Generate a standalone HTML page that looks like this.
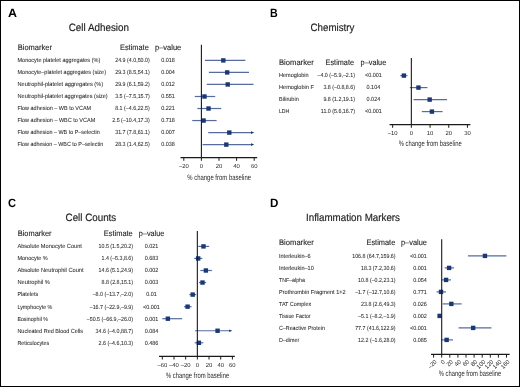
<!DOCTYPE html>
<html><head><meta charset="utf-8"><style>
html,body{margin:0;padding:0;background:#fff;}
body{width:520px;height:387px;overflow:hidden;}
svg{display:block;will-change:transform;font-family:"Liberation Sans", sans-serif;text-rendering:geometricPrecision;}
</style></head><body>
<svg width="520" height="387" viewBox="0 0 520 387" fill="#231f20">
<rect x="0" y="0" width="520" height="387" fill="#fff"/>
<rect x="0.5" y="0.5" width="519" height="386" fill="none" stroke="#000" stroke-width="1"/>
<text x="8.10" y="16.90" font-size="12.0" textLength="9.00" lengthAdjust="spacingAndGlyphs" font-weight="bold" fill="#000">A</text>
<text x="68.75" y="31.25" font-size="10.6" textLength="60.25" lengthAdjust="spacingAndGlyphs" stroke="#231f20" stroke-width="0.18">Cell Adhesion</text>
<text x="17.75" y="49.90" font-size="8.0" textLength="34.15" lengthAdjust="spacingAndGlyphs" stroke="#231f20" stroke-width="0.12">Biomarker</text>
<text x="120.00" y="49.90" font-size="8.0" textLength="28.75" lengthAdjust="spacingAndGlyphs" stroke="#231f20" stroke-width="0.12">Estimate</text>
<text x="155.00" y="49.90" font-size="8.0" textLength="26.25" lengthAdjust="spacingAndGlyphs" stroke="#231f20" stroke-width="0.12">p–value</text>
<text x="17.50" y="62.25" font-size="5.9" textLength="82.75" lengthAdjust="spacingAndGlyphs" stroke="#231f20" stroke-width="0.05">Monocyte platelet aggregates (%)</text>
<text x="149.75" y="62.25" font-size="5.9" text-anchor="end" textLength="34.56" lengthAdjust="spacingAndGlyphs" stroke="#231f20" stroke-width="0.05">24.9 (4.0,50.0)</text>
<text x="168.10" y="62.25" font-size="5.9" text-anchor="middle" textLength="13.64" lengthAdjust="spacingAndGlyphs" stroke="#231f20" stroke-width="0.05">0.018</text>
<line x1="204.92" y1="60.40" x2="245.40" y2="60.40" stroke="#556c9c" stroke-width="1.2"/>
<rect x="221.11" y="58.20" width="4.40" height="4.40" fill="#1c3874"/>
<text x="17.50" y="74.28" font-size="5.9" textLength="88.50" lengthAdjust="spacingAndGlyphs" stroke="#231f20" stroke-width="0.05">Monocyte–platelet aggregates (size)</text>
<text x="149.75" y="74.28" font-size="5.9" text-anchor="end" textLength="34.56" lengthAdjust="spacingAndGlyphs" stroke="#231f20" stroke-width="0.05">29.3 (8.5,54.1)</text>
<text x="168.10" y="74.28" font-size="5.9" text-anchor="middle" textLength="13.64" lengthAdjust="spacingAndGlyphs" stroke="#231f20" stroke-width="0.05">0.004</text>
<line x1="208.88" y1="72.43" x2="249.01" y2="72.43" stroke="#556c9c" stroke-width="1.2"/>
<rect x="224.98" y="70.23" width="4.40" height="4.40" fill="#1c3874"/>
<text x="17.50" y="86.31" font-size="5.9" textLength="85.60" lengthAdjust="spacingAndGlyphs" stroke="#231f20" stroke-width="0.05">Neutrophil-platelet aggregates (%)</text>
<text x="149.75" y="86.31" font-size="5.9" text-anchor="end" textLength="34.56" lengthAdjust="spacingAndGlyphs" stroke="#231f20" stroke-width="0.05">29.9 (6.1,59.2)</text>
<text x="168.10" y="86.31" font-size="5.9" text-anchor="middle" textLength="13.64" lengthAdjust="spacingAndGlyphs" stroke="#231f20" stroke-width="0.05">0.012</text>
<line x1="206.77" y1="84.46" x2="253.50" y2="84.46" stroke="#556c9c" stroke-width="1.2"/>
<rect x="225.51" y="82.26" width="4.40" height="4.40" fill="#1c3874"/>
<text x="17.50" y="98.34" font-size="5.9" textLength="90.25" lengthAdjust="spacingAndGlyphs" stroke="#231f20" stroke-width="0.05">Neutrophil-platelet aggregates (size)</text>
<text x="149.75" y="98.34" font-size="5.9" text-anchor="end" textLength="34.56" lengthAdjust="spacingAndGlyphs" stroke="#231f20" stroke-width="0.05">3.5 (–7.5,15.7)</text>
<text x="168.10" y="98.34" font-size="5.9" text-anchor="middle" textLength="13.64" lengthAdjust="spacingAndGlyphs" stroke="#231f20" stroke-width="0.05">0.551</text>
<line x1="194.80" y1="96.49" x2="215.22" y2="96.49" stroke="#556c9c" stroke-width="1.2"/>
<rect x="202.28" y="94.29" width="4.40" height="4.40" fill="#1c3874"/>
<text x="17.50" y="110.37" font-size="5.9" textLength="73.60" lengthAdjust="spacingAndGlyphs" stroke="#231f20" stroke-width="0.05">Flow adhesion – WB to VCAM</text>
<text x="149.75" y="110.37" font-size="5.9" text-anchor="end" textLength="34.56" lengthAdjust="spacingAndGlyphs" stroke="#231f20" stroke-width="0.05">8.1 (–4.6,22.5)</text>
<text x="168.10" y="110.37" font-size="5.9" text-anchor="middle" textLength="13.64" lengthAdjust="spacingAndGlyphs" stroke="#231f20" stroke-width="0.05">0.221</text>
<line x1="197.35" y1="108.52" x2="221.20" y2="108.52" stroke="#556c9c" stroke-width="1.2"/>
<rect x="206.33" y="106.32" width="4.40" height="4.40" fill="#1c3874"/>
<text x="17.50" y="122.40" font-size="5.9" textLength="77.70" lengthAdjust="spacingAndGlyphs" stroke="#231f20" stroke-width="0.05">Flow adhesion – WBC to VCAM</text>
<text x="149.75" y="122.40" font-size="5.9" text-anchor="end" textLength="37.51" lengthAdjust="spacingAndGlyphs" stroke="#231f20" stroke-width="0.05">2.5 (–10.4,17.3)</text>
<text x="168.10" y="122.40" font-size="5.9" text-anchor="middle" textLength="13.64" lengthAdjust="spacingAndGlyphs" stroke="#231f20" stroke-width="0.05">0.718</text>
<line x1="192.25" y1="120.55" x2="216.62" y2="120.55" stroke="#556c9c" stroke-width="1.2"/>
<rect x="201.40" y="118.35" width="4.40" height="4.40" fill="#1c3874"/>
<text x="17.50" y="134.43" font-size="5.9" textLength="82.20" lengthAdjust="spacingAndGlyphs" stroke="#231f20" stroke-width="0.05">Flow adhesion – WB to P–selectin</text>
<text x="149.75" y="134.43" font-size="5.9" text-anchor="end" textLength="34.56" lengthAdjust="spacingAndGlyphs" stroke="#231f20" stroke-width="0.05">31.7 (7.8,61.1)</text>
<text x="168.10" y="134.43" font-size="5.9" text-anchor="middle" textLength="13.64" lengthAdjust="spacingAndGlyphs" stroke="#231f20" stroke-width="0.05">0.007</text>
<line x1="208.26" y1="132.58" x2="252.00" y2="132.58" stroke="#556c9c" stroke-width="1.2"/>
<polygon points="251.00,131.28 254.20,132.58 251.00,133.88" fill="#1c3874"/>
<rect x="227.10" y="130.38" width="4.40" height="4.40" fill="#1c3874"/>
<text x="17.50" y="146.46" font-size="5.9" textLength="85.70" lengthAdjust="spacingAndGlyphs" stroke="#231f20" stroke-width="0.05">Flow adhesion – WBC to P–selectin</text>
<text x="149.75" y="146.46" font-size="5.9" text-anchor="end" textLength="34.56" lengthAdjust="spacingAndGlyphs" stroke="#231f20" stroke-width="0.05">28.3 (1.4,62.5)</text>
<text x="168.10" y="146.46" font-size="5.9" text-anchor="middle" textLength="13.64" lengthAdjust="spacingAndGlyphs" stroke="#231f20" stroke-width="0.05">0.038</text>
<line x1="202.63" y1="144.61" x2="252.00" y2="144.61" stroke="#556c9c" stroke-width="1.2"/>
<polygon points="251.00,143.31 254.20,144.61 251.00,145.91" fill="#1c3874"/>
<rect x="224.10" y="142.41" width="4.40" height="4.40" fill="#1c3874"/>
<line x1="201.40" y1="44.80" x2="201.40" y2="157.60" stroke="#1a1a1a" stroke-width="1.1"/>
<line x1="180.50" y1="157.60" x2="257.20" y2="157.60" stroke="#1a1a1a" stroke-width="1.15"/>
<line x1="183.80" y1="157.60" x2="183.80" y2="160.80" stroke="#1a1a1a" stroke-width="1.0"/>
<text x="183.80" y="168.10" font-size="5.9" text-anchor="middle">–20</text>
<line x1="201.40" y1="157.60" x2="201.40" y2="160.80" stroke="#1a1a1a" stroke-width="1.0"/>
<text x="201.40" y="168.10" font-size="5.9" text-anchor="middle">0</text>
<line x1="219.00" y1="157.60" x2="219.00" y2="160.80" stroke="#1a1a1a" stroke-width="1.0"/>
<text x="219.00" y="168.10" font-size="5.9" text-anchor="middle">20</text>
<line x1="236.60" y1="157.60" x2="236.60" y2="160.80" stroke="#1a1a1a" stroke-width="1.0"/>
<text x="236.60" y="168.10" font-size="5.9" text-anchor="middle">40</text>
<line x1="254.20" y1="157.60" x2="254.20" y2="160.80" stroke="#1a1a1a" stroke-width="1.0"/>
<text x="254.20" y="168.10" font-size="5.9" text-anchor="middle">60</text>
<text x="187.30" y="179.50" font-size="7.8" textLength="63.70" lengthAdjust="spacingAndGlyphs">% change from baseline</text>
<text x="269.90" y="16.90" font-size="12.0" textLength="7.70" lengthAdjust="spacingAndGlyphs" font-weight="bold" fill="#000">B</text>
<text x="310.60" y="31.25" font-size="10.6" textLength="43.80" lengthAdjust="spacingAndGlyphs" stroke="#231f20" stroke-width="0.18">Chemistry</text>
<text x="279.00" y="64.75" font-size="8.0" textLength="34.75" lengthAdjust="spacingAndGlyphs" stroke="#231f20" stroke-width="0.12">Biomarker</text>
<text x="325.60" y="64.75" font-size="8.0" textLength="28.40" lengthAdjust="spacingAndGlyphs" stroke="#231f20" stroke-width="0.12">Estimate</text>
<text x="360.60" y="64.75" font-size="8.0" textLength="25.65" lengthAdjust="spacingAndGlyphs" stroke="#231f20" stroke-width="0.12">p–value</text>
<text x="279.00" y="77.45" font-size="5.9" textLength="29.70" lengthAdjust="spacingAndGlyphs" stroke="#231f20" stroke-width="0.05">Hemoglobin</text>
<text x="355.00" y="77.45" font-size="5.9" text-anchor="end" textLength="37.51" lengthAdjust="spacingAndGlyphs" stroke="#231f20" stroke-width="0.05">–4.0 (–5.9,–2.1)</text>
<text x="373.40" y="77.45" font-size="5.9" text-anchor="middle" textLength="16.82" lengthAdjust="spacingAndGlyphs" stroke="#231f20" stroke-width="0.05">&lt;0.001</text>
<line x1="400.32" y1="75.60" x2="407.42" y2="75.60" stroke="#556c9c" stroke-width="1.2"/>
<rect x="401.67" y="73.40" width="4.40" height="4.40" fill="#1c3874"/>
<text x="279.00" y="89.45" font-size="5.9" textLength="34.90" lengthAdjust="spacingAndGlyphs" stroke="#231f20" stroke-width="0.05">Hemoglobin F</text>
<text x="355.00" y="89.45" font-size="5.9" text-anchor="end" textLength="31.60" lengthAdjust="spacingAndGlyphs" stroke="#231f20" stroke-width="0.05">3.8 (–0.8,8.6)</text>
<text x="373.40" y="89.45" font-size="5.9" text-anchor="middle" textLength="13.64" lengthAdjust="spacingAndGlyphs" stroke="#231f20" stroke-width="0.05">0.104</text>
<line x1="409.85" y1="87.60" x2="427.43" y2="87.60" stroke="#556c9c" stroke-width="1.2"/>
<rect x="416.26" y="85.40" width="4.40" height="4.40" fill="#1c3874"/>
<text x="279.00" y="101.45" font-size="5.9" textLength="19.80" lengthAdjust="spacingAndGlyphs" stroke="#231f20" stroke-width="0.05">Bilirubin</text>
<text x="355.00" y="101.45" font-size="5.9" text-anchor="end" textLength="31.60" lengthAdjust="spacingAndGlyphs" stroke="#231f20" stroke-width="0.05">9.8 (1.2,19.1)</text>
<text x="373.40" y="101.45" font-size="5.9" text-anchor="middle" textLength="13.64" lengthAdjust="spacingAndGlyphs" stroke="#231f20" stroke-width="0.05">0.024</text>
<line x1="413.59" y1="99.60" x2="447.07" y2="99.60" stroke="#556c9c" stroke-width="1.2"/>
<rect x="427.48" y="97.40" width="4.40" height="4.40" fill="#1c3874"/>
<text x="279.00" y="113.45" font-size="5.9" textLength="10.30" lengthAdjust="spacingAndGlyphs" stroke="#231f20" stroke-width="0.05">LDH</text>
<text x="355.00" y="113.45" font-size="5.9" text-anchor="end" textLength="34.16" lengthAdjust="spacingAndGlyphs" stroke="#231f20" stroke-width="0.05">11.0 (5.6,16.7)</text>
<text x="373.40" y="113.45" font-size="5.9" text-anchor="middle" textLength="16.82" lengthAdjust="spacingAndGlyphs" stroke="#231f20" stroke-width="0.05">&lt;0.001</text>
<line x1="421.82" y1="111.60" x2="442.58" y2="111.60" stroke="#556c9c" stroke-width="1.2"/>
<rect x="429.72" y="109.40" width="4.40" height="4.40" fill="#1c3874"/>
<line x1="411.35" y1="58.10" x2="411.35" y2="124.60" stroke="#1a1a1a" stroke-width="1.1"/>
<line x1="389.60" y1="124.60" x2="470.40" y2="124.60" stroke="#1a1a1a" stroke-width="1.15"/>
<line x1="392.65" y1="124.60" x2="392.65" y2="127.80" stroke="#1a1a1a" stroke-width="1.0"/>
<text x="392.65" y="135.20" font-size="5.9" text-anchor="middle">–10</text>
<line x1="411.35" y1="124.60" x2="411.35" y2="127.80" stroke="#1a1a1a" stroke-width="1.0"/>
<text x="411.35" y="135.20" font-size="5.9" text-anchor="middle">0</text>
<line x1="430.05" y1="124.60" x2="430.05" y2="127.80" stroke="#1a1a1a" stroke-width="1.0"/>
<text x="430.05" y="135.20" font-size="5.9" text-anchor="middle">10</text>
<line x1="448.75" y1="124.60" x2="448.75" y2="127.80" stroke="#1a1a1a" stroke-width="1.0"/>
<text x="448.75" y="135.20" font-size="5.9" text-anchor="middle">20</text>
<line x1="467.45" y1="124.60" x2="467.45" y2="127.80" stroke="#1a1a1a" stroke-width="1.0"/>
<text x="467.45" y="135.20" font-size="5.9" text-anchor="middle">30</text>
<text x="398.70" y="146.40" font-size="7.8" textLength="63.00" lengthAdjust="spacingAndGlyphs">% change from baseline</text>
<text x="8.10" y="206.60" font-size="12.0" textLength="8.00" lengthAdjust="spacingAndGlyphs" font-weight="bold" fill="#000">C</text>
<text x="65.60" y="220.90" font-size="10.6" textLength="50.65" lengthAdjust="spacingAndGlyphs" stroke="#231f20" stroke-width="0.18">Cell Counts</text>
<text x="17.75" y="235.60" font-size="8.0" textLength="33.75" lengthAdjust="spacingAndGlyphs" stroke="#231f20" stroke-width="0.12">Biomarker</text>
<text x="103.75" y="235.60" font-size="8.0" textLength="29.00" lengthAdjust="spacingAndGlyphs" stroke="#231f20" stroke-width="0.12">Estimate</text>
<text x="138.75" y="235.60" font-size="8.0" textLength="25.65" lengthAdjust="spacingAndGlyphs" stroke="#231f20" stroke-width="0.12">p–value</text>
<text x="17.40" y="248.25" font-size="5.9" textLength="64.50" lengthAdjust="spacingAndGlyphs" stroke="#231f20" stroke-width="0.05">Absolute Monocyte Count</text>
<text x="133.10" y="248.25" font-size="5.9" text-anchor="end" textLength="34.56" lengthAdjust="spacingAndGlyphs" stroke="#231f20" stroke-width="0.05">10.5 (1.5,20.2)</text>
<text x="151.50" y="248.25" font-size="5.9" text-anchor="middle" textLength="13.64" lengthAdjust="spacingAndGlyphs" stroke="#231f20" stroke-width="0.05">0.021</text>
<line x1="198.23" y1="246.40" x2="209.15" y2="246.40" stroke="#556c9c" stroke-width="1.2"/>
<rect x="201.28" y="244.20" width="4.40" height="4.40" fill="#1c3874"/>
<text x="17.40" y="260.30" font-size="5.9" textLength="30.40" lengthAdjust="spacingAndGlyphs" stroke="#231f20" stroke-width="0.05">Monocyte %</text>
<text x="133.10" y="260.30" font-size="5.9" text-anchor="end" textLength="31.60" lengthAdjust="spacingAndGlyphs" stroke="#231f20" stroke-width="0.05">1.4 (–5.3,8.6)</text>
<text x="151.50" y="260.30" font-size="5.9" text-anchor="middle" textLength="13.64" lengthAdjust="spacingAndGlyphs" stroke="#231f20" stroke-width="0.05">0.683</text>
<line x1="194.25" y1="258.45" x2="202.37" y2="258.45" stroke="#556c9c" stroke-width="1.2"/>
<rect x="195.97" y="256.25" width="4.40" height="4.40" fill="#1c3874"/>
<text x="17.40" y="272.35" font-size="5.9" textLength="66.20" lengthAdjust="spacingAndGlyphs" stroke="#231f20" stroke-width="0.05">Absolute Neutrophil Count</text>
<text x="133.10" y="272.35" font-size="5.9" text-anchor="end" textLength="34.56" lengthAdjust="spacingAndGlyphs" stroke="#231f20" stroke-width="0.05">14.6 (5.1,24.9)</text>
<text x="151.50" y="272.35" font-size="5.9" text-anchor="middle" textLength="13.64" lengthAdjust="spacingAndGlyphs" stroke="#231f20" stroke-width="0.05">0.002</text>
<line x1="200.33" y1="270.50" x2="211.89" y2="270.50" stroke="#556c9c" stroke-width="1.2"/>
<rect x="203.68" y="268.30" width="4.40" height="4.40" fill="#1c3874"/>
<text x="17.40" y="284.40" font-size="5.9" textLength="32.50" lengthAdjust="spacingAndGlyphs" stroke="#231f20" stroke-width="0.05">Neutrophil %</text>
<text x="133.10" y="284.40" font-size="5.9" text-anchor="end" textLength="31.60" lengthAdjust="spacingAndGlyphs" stroke="#231f20" stroke-width="0.05">8.8 (2.8,15.1)</text>
<text x="151.50" y="284.40" font-size="5.9" text-anchor="middle" textLength="13.64" lengthAdjust="spacingAndGlyphs" stroke="#231f20" stroke-width="0.05">0.003</text>
<line x1="198.99" y1="282.55" x2="206.17" y2="282.55" stroke="#556c9c" stroke-width="1.2"/>
<rect x="200.29" y="280.35" width="4.40" height="4.40" fill="#1c3874"/>
<text x="17.40" y="296.45" font-size="5.9" textLength="20.70" lengthAdjust="spacingAndGlyphs" stroke="#231f20" stroke-width="0.05">Platelets</text>
<text x="133.10" y="296.45" font-size="5.9" text-anchor="end" textLength="40.47" lengthAdjust="spacingAndGlyphs" stroke="#231f20" stroke-width="0.05">–8.0 (–13.7,–2.0)</text>
<text x="151.50" y="296.45" font-size="5.9" text-anchor="middle" textLength="10.61" lengthAdjust="spacingAndGlyphs" stroke="#231f20" stroke-width="0.05">0.01</text>
<line x1="189.35" y1="294.60" x2="196.18" y2="294.60" stroke="#556c9c" stroke-width="1.2"/>
<rect x="190.48" y="292.40" width="4.40" height="4.40" fill="#1c3874"/>
<text x="17.40" y="308.50" font-size="5.9" textLength="35.00" lengthAdjust="spacingAndGlyphs" stroke="#231f20" stroke-width="0.05">Lymphocyte %</text>
<text x="133.10" y="308.50" font-size="5.9" text-anchor="end" textLength="43.42" lengthAdjust="spacingAndGlyphs" stroke="#231f20" stroke-width="0.05">–16.7 (–22.9,–9.9)</text>
<text x="151.50" y="308.50" font-size="5.9" text-anchor="middle" textLength="16.82" lengthAdjust="spacingAndGlyphs" stroke="#231f20" stroke-width="0.05">&lt;0.001</text>
<line x1="183.98" y1="306.65" x2="191.57" y2="306.65" stroke="#556c9c" stroke-width="1.2"/>
<rect x="185.40" y="304.45" width="4.40" height="4.40" fill="#1c3874"/>
<text x="17.40" y="320.55" font-size="5.9" textLength="30.60" lengthAdjust="spacingAndGlyphs" stroke="#231f20" stroke-width="0.05">Eosinophil %</text>
<text x="133.10" y="320.55" font-size="5.9" text-anchor="end" textLength="46.38" lengthAdjust="spacingAndGlyphs" stroke="#231f20" stroke-width="0.05">–50.5 (–66.9,–26.0)</text>
<text x="151.50" y="320.55" font-size="5.9" text-anchor="middle" textLength="13.64" lengthAdjust="spacingAndGlyphs" stroke="#231f20" stroke-width="0.05">0.001</text>
<line x1="162.31" y1="318.70" x2="182.17" y2="318.70" stroke="#556c9c" stroke-width="1.2"/>
<rect x="165.66" y="316.50" width="4.40" height="4.40" fill="#1c3874"/>
<text x="17.40" y="332.60" font-size="5.9" textLength="65.70" lengthAdjust="spacingAndGlyphs" stroke="#231f20" stroke-width="0.05">Nucleated Red Blood Cells</text>
<text x="133.10" y="332.60" font-size="5.9" text-anchor="end" textLength="37.51" lengthAdjust="spacingAndGlyphs" stroke="#231f20" stroke-width="0.05">34.6 (–4.0,88.7)</text>
<text x="151.50" y="332.60" font-size="5.9" text-anchor="middle" textLength="13.64" lengthAdjust="spacingAndGlyphs" stroke="#231f20" stroke-width="0.05">0.084</text>
<line x1="195.01" y1="330.75" x2="230.19" y2="330.75" stroke="#556c9c" stroke-width="1.2"/>
<polygon points="229.19,329.45 232.39,330.75 229.19,332.05" fill="#1c3874"/>
<rect x="215.36" y="328.55" width="4.40" height="4.40" fill="#1c3874"/>
<text x="17.40" y="344.65" font-size="5.9" textLength="31.80" lengthAdjust="spacingAndGlyphs" stroke="#231f20" stroke-width="0.05">Reticulocytes</text>
<text x="133.10" y="344.65" font-size="5.9" text-anchor="end" textLength="34.56" lengthAdjust="spacingAndGlyphs" stroke="#231f20" stroke-width="0.05">2.6 (–4.6,10.3)</text>
<text x="151.50" y="344.65" font-size="5.9" text-anchor="middle" textLength="13.64" lengthAdjust="spacingAndGlyphs" stroke="#231f20" stroke-width="0.05">0.486</text>
<line x1="194.66" y1="342.80" x2="203.37" y2="342.80" stroke="#556c9c" stroke-width="1.2"/>
<rect x="196.67" y="340.60" width="4.40" height="4.40" fill="#1c3874"/>
<line x1="197.35" y1="230.90" x2="197.35" y2="356.30" stroke="#1a1a1a" stroke-width="1.1"/>
<line x1="159.00" y1="356.30" x2="234.80" y2="356.30" stroke="#1a1a1a" stroke-width="1.15"/>
<line x1="162.31" y1="356.30" x2="162.31" y2="359.50" stroke="#1a1a1a" stroke-width="1.0"/>
<text x="162.31" y="367.30" font-size="5.9" text-anchor="middle">–60</text>
<line x1="173.99" y1="356.30" x2="173.99" y2="359.50" stroke="#1a1a1a" stroke-width="1.0"/>
<text x="173.99" y="367.30" font-size="5.9" text-anchor="middle">–40</text>
<line x1="185.67" y1="356.30" x2="185.67" y2="359.50" stroke="#1a1a1a" stroke-width="1.0"/>
<text x="185.67" y="367.30" font-size="5.9" text-anchor="middle">–20</text>
<line x1="197.35" y1="356.30" x2="197.35" y2="359.50" stroke="#1a1a1a" stroke-width="1.0"/>
<text x="197.35" y="367.30" font-size="5.9" text-anchor="middle">0</text>
<line x1="209.03" y1="356.30" x2="209.03" y2="359.50" stroke="#1a1a1a" stroke-width="1.0"/>
<text x="209.03" y="367.30" font-size="5.9" text-anchor="middle">20</text>
<line x1="220.71" y1="356.30" x2="220.71" y2="359.50" stroke="#1a1a1a" stroke-width="1.0"/>
<text x="220.71" y="367.30" font-size="5.9" text-anchor="middle">40</text>
<line x1="232.39" y1="356.30" x2="232.39" y2="359.50" stroke="#1a1a1a" stroke-width="1.0"/>
<text x="232.39" y="367.30" font-size="5.9" text-anchor="middle">60</text>
<text x="165.90" y="377.90" font-size="7.8" textLength="63.30" lengthAdjust="spacingAndGlyphs">% change from baseline</text>
<text x="270.10" y="206.50" font-size="12.0" textLength="8.40" lengthAdjust="spacingAndGlyphs" font-weight="bold" fill="#000">D</text>
<text x="306.00" y="220.60" font-size="10.6" textLength="94.00" lengthAdjust="spacingAndGlyphs" stroke="#231f20" stroke-width="0.18">Inflammation Markers</text>
<text x="279.00" y="244.90" font-size="8.0" textLength="34.75" lengthAdjust="spacingAndGlyphs" stroke="#231f20" stroke-width="0.12">Biomarker</text>
<text x="366.50" y="244.90" font-size="8.0" textLength="28.75" lengthAdjust="spacingAndGlyphs" stroke="#231f20" stroke-width="0.12">Estimate</text>
<text x="401.00" y="244.90" font-size="8.0" textLength="25.90" lengthAdjust="spacingAndGlyphs" stroke="#231f20" stroke-width="0.12">p–value</text>
<text x="279.00" y="257.75" font-size="5.9" textLength="31.60" lengthAdjust="spacingAndGlyphs" stroke="#231f20" stroke-width="0.05">Interleukin–6</text>
<text x="395.60" y="257.75" font-size="5.9" text-anchor="end" textLength="43.42" lengthAdjust="spacingAndGlyphs" stroke="#231f20" stroke-width="0.05">106.8 (64.7,159.6)</text>
<text x="426.80" y="257.75" font-size="5.9" text-anchor="end" textLength="16.82" lengthAdjust="spacingAndGlyphs" stroke="#231f20" stroke-width="0.05">&lt;0.001</text>
<line x1="467.90" y1="255.90" x2="506.34" y2="255.90" stroke="#556c9c" stroke-width="1.2"/>
<rect x="482.75" y="253.70" width="4.40" height="4.40" fill="#1c3874"/>
<text x="279.00" y="269.75" font-size="5.9" textLength="34.75" lengthAdjust="spacingAndGlyphs" stroke="#231f20" stroke-width="0.05">Interleukin–10</text>
<text x="395.60" y="269.75" font-size="5.9" text-anchor="end" textLength="34.56" lengthAdjust="spacingAndGlyphs" stroke="#231f20" stroke-width="0.05">18.3 (7.2,30.6)</text>
<text x="426.80" y="269.75" font-size="5.9" text-anchor="end" textLength="13.64" lengthAdjust="spacingAndGlyphs" stroke="#231f20" stroke-width="0.05">0.001</text>
<line x1="444.62" y1="267.90" x2="454.09" y2="267.90" stroke="#556c9c" stroke-width="1.2"/>
<rect x="446.91" y="265.70" width="4.40" height="4.40" fill="#1c3874"/>
<text x="279.00" y="281.75" font-size="5.9" textLength="25.90" lengthAdjust="spacingAndGlyphs" stroke="#231f20" stroke-width="0.05">TNF–alpha</text>
<text x="395.60" y="281.75" font-size="5.9" text-anchor="end" textLength="37.51" lengthAdjust="spacingAndGlyphs" stroke="#231f20" stroke-width="0.05">10.8 (–0.2,23.1)</text>
<text x="426.80" y="281.75" font-size="5.9" text-anchor="end" textLength="13.64" lengthAdjust="spacingAndGlyphs" stroke="#231f20" stroke-width="0.05">0.054</text>
<line x1="441.62" y1="279.90" x2="451.06" y2="279.90" stroke="#556c9c" stroke-width="1.2"/>
<rect x="443.87" y="277.70" width="4.40" height="4.40" fill="#1c3874"/>
<text x="279.00" y="293.75" font-size="5.9" textLength="66.60" lengthAdjust="spacingAndGlyphs" stroke="#231f20" stroke-width="0.05">Prothrombin Fragment 1+2</text>
<text x="395.60" y="293.75" font-size="5.9" text-anchor="end" textLength="40.47" lengthAdjust="spacingAndGlyphs" stroke="#231f20" stroke-width="0.05">–1.7 (–12.7,10.6)</text>
<text x="426.80" y="293.75" font-size="5.9" text-anchor="end" textLength="13.64" lengthAdjust="spacingAndGlyphs" stroke="#231f20" stroke-width="0.05">0.771</text>
<line x1="436.56" y1="291.90" x2="445.99" y2="291.90" stroke="#556c9c" stroke-width="1.2"/>
<rect x="438.81" y="289.70" width="4.40" height="4.40" fill="#1c3874"/>
<text x="279.00" y="305.75" font-size="5.9" textLength="32.10" lengthAdjust="spacingAndGlyphs" stroke="#231f20" stroke-width="0.05">TAT Complex</text>
<text x="395.60" y="305.75" font-size="5.9" text-anchor="end" textLength="34.56" lengthAdjust="spacingAndGlyphs" stroke="#231f20" stroke-width="0.05">23.8 (2.6,49.3)</text>
<text x="426.80" y="305.75" font-size="5.9" text-anchor="end" textLength="13.64" lengthAdjust="spacingAndGlyphs" stroke="#231f20" stroke-width="0.05">0.026</text>
<line x1="442.75" y1="303.90" x2="461.67" y2="303.90" stroke="#556c9c" stroke-width="1.2"/>
<rect x="449.14" y="301.70" width="4.40" height="4.40" fill="#1c3874"/>
<text x="279.00" y="317.75" font-size="5.9" textLength="31.60" lengthAdjust="spacingAndGlyphs" stroke="#231f20" stroke-width="0.05">Tissue Factor</text>
<text x="395.60" y="317.75" font-size="5.9" text-anchor="end" textLength="37.51" lengthAdjust="spacingAndGlyphs" stroke="#231f20" stroke-width="0.05">–5.1 (–8.2,–1.9)</text>
<text x="426.80" y="317.75" font-size="5.9" text-anchor="end" textLength="13.64" lengthAdjust="spacingAndGlyphs" stroke="#231f20" stroke-width="0.05">0.002</text>
<line x1="438.38" y1="315.90" x2="440.93" y2="315.90" stroke="#556c9c" stroke-width="1.2"/>
<rect x="437.43" y="313.70" width="4.40" height="4.40" fill="#1c3874"/>
<text x="279.00" y="329.75" font-size="5.9" textLength="45.90" lengthAdjust="spacingAndGlyphs" stroke="#231f20" stroke-width="0.05">C–Reactive Protein</text>
<text x="395.60" y="329.75" font-size="5.9" text-anchor="end" textLength="40.47" lengthAdjust="spacingAndGlyphs" stroke="#231f20" stroke-width="0.05">77.7 (41.6,122.9)</text>
<text x="426.80" y="329.75" font-size="5.9" text-anchor="end" textLength="16.82" lengthAdjust="spacingAndGlyphs" stroke="#231f20" stroke-width="0.05">&lt;0.001</text>
<line x1="458.55" y1="327.90" x2="491.47" y2="327.90" stroke="#556c9c" stroke-width="1.2"/>
<rect x="470.97" y="325.70" width="4.40" height="4.40" fill="#1c3874"/>
<text x="279.00" y="341.75" font-size="5.9" textLength="20.30" lengthAdjust="spacingAndGlyphs" stroke="#231f20" stroke-width="0.05">D–dimer</text>
<text x="395.60" y="341.75" font-size="5.9" text-anchor="end" textLength="37.51" lengthAdjust="spacingAndGlyphs" stroke="#231f20" stroke-width="0.05">12.2 (–1.6,28.0)</text>
<text x="426.80" y="341.75" font-size="5.9" text-anchor="end" textLength="13.64" lengthAdjust="spacingAndGlyphs" stroke="#231f20" stroke-width="0.05">0.085</text>
<line x1="441.05" y1="339.90" x2="453.04" y2="339.90" stroke="#556c9c" stroke-width="1.2"/>
<rect x="444.44" y="337.70" width="4.40" height="4.40" fill="#1c3874"/>
<line x1="441.70" y1="239.25" x2="441.70" y2="354.40" stroke="#1a1a1a" stroke-width="1.1"/>
<line x1="431.00" y1="354.40" x2="509.60" y2="354.40" stroke="#1a1a1a" stroke-width="1.15"/>
<line x1="433.60" y1="354.40" x2="433.60" y2="357.60" stroke="#1a1a1a" stroke-width="1.0"/>
<text x="437.20" y="362.20" font-size="5.9" text-anchor="end" transform="rotate(-45 437.20 362.20)" fill="#231f20">–20</text>
<line x1="441.70" y1="354.40" x2="441.70" y2="357.60" stroke="#1a1a1a" stroke-width="1.0"/>
<text x="445.30" y="362.20" font-size="5.9" text-anchor="end" transform="rotate(-45 445.30 362.20)" fill="#231f20">0</text>
<line x1="449.80" y1="354.40" x2="449.80" y2="357.60" stroke="#1a1a1a" stroke-width="1.0"/>
<text x="453.40" y="362.20" font-size="5.9" text-anchor="end" transform="rotate(-45 453.40 362.20)" fill="#231f20">20</text>
<line x1="457.90" y1="354.40" x2="457.90" y2="357.60" stroke="#1a1a1a" stroke-width="1.0"/>
<text x="461.50" y="362.20" font-size="5.9" text-anchor="end" transform="rotate(-45 461.50 362.20)" fill="#231f20">40</text>
<line x1="466.00" y1="354.40" x2="466.00" y2="357.60" stroke="#1a1a1a" stroke-width="1.0"/>
<text x="469.60" y="362.20" font-size="5.9" text-anchor="end" transform="rotate(-45 469.60 362.20)" fill="#231f20">60</text>
<line x1="474.10" y1="354.40" x2="474.10" y2="357.60" stroke="#1a1a1a" stroke-width="1.0"/>
<text x="477.70" y="362.20" font-size="5.9" text-anchor="end" transform="rotate(-45 477.70 362.20)" fill="#231f20">80</text>
<line x1="482.20" y1="354.40" x2="482.20" y2="357.60" stroke="#1a1a1a" stroke-width="1.0"/>
<text x="485.80" y="362.20" font-size="5.9" text-anchor="end" transform="rotate(-45 485.80 362.20)" fill="#231f20">100</text>
<line x1="490.30" y1="354.40" x2="490.30" y2="357.60" stroke="#1a1a1a" stroke-width="1.0"/>
<text x="493.90" y="362.20" font-size="5.9" text-anchor="end" transform="rotate(-45 493.90 362.20)" fill="#231f20">120</text>
<line x1="498.40" y1="354.40" x2="498.40" y2="357.60" stroke="#1a1a1a" stroke-width="1.0"/>
<text x="502.00" y="362.20" font-size="5.9" text-anchor="end" transform="rotate(-45 502.00 362.20)" fill="#231f20">140</text>
<line x1="506.50" y1="354.40" x2="506.50" y2="357.60" stroke="#1a1a1a" stroke-width="1.0"/>
<text x="510.10" y="362.20" font-size="5.9" text-anchor="end" transform="rotate(-45 510.10 362.20)" fill="#231f20">160</text>
<text x="438.70" y="376.30" font-size="7.8" textLength="62.60" lengthAdjust="spacingAndGlyphs">% change from baseline</text>
</svg>
</body></html>
